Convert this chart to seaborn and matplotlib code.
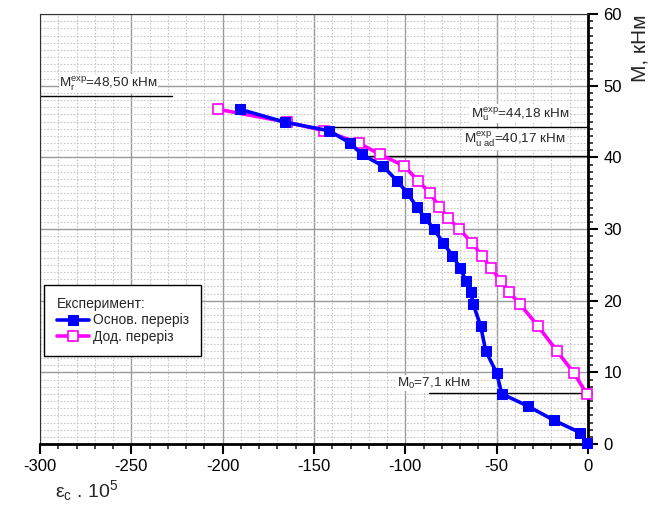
import matplotlib
matplotlib.use("Agg")
import matplotlib.pyplot as plt
from matplotlib.ticker import MultipleLocator
import numpy as np
import pandas as pd
import seaborn as sns

# ---- data ----
load_main = [46.7, 44.9, 43.7, 42.0, 40.4, 38.8, 36.7, 35.0, 33.1, 31.5, 30.0,
             28.0, 26.3, 24.5, 22.8, 21.2, 19.5, 16.4, 13.0, 9.9, 7.0,
             5.3, 3.3, 1.6, 0.2]
strain_main = [-190.5, -165.8, -141.6, -130.3, -123.7, -112.4, -104.4, -98.9,
               -93.8, -89.2, -84.3, -79.2, -74.2, -69.9, -66.9, -64.2, -62.8,
               -58.7, -56.0, -50.0, -47.2, -33.0, -18.6, -4.4, -0.7]
load_add = [46.7, 44.9, 43.7, 42.0, 40.4, 38.8, 36.7, 35.0, 33.1, 31.5, 30.0,
            28.0, 26.3, 24.5, 22.8, 21.2, 19.5, 16.4, 13.0, 9.9, 7.0]
strain_add = [-202.4, -164.6, -144.3, -125.5, -113.8, -100.7, -92.9, -86.5,
              -81.4, -76.4, -70.4, -63.4, -58.1, -53.0, -47.8, -43.1, -37.2,
              -27.2, -17.1, -7.7, -0.7]
series_names = ["Основ. переріз", "Дод. переріз"]
legend_title = "Експеримент:"

ref_values = [48.50, 44.18, 40.17, 7.1]
ref_starts = [-300, -154, -123, -87]
ref_ends = [-228, 0, 0, 0]
ref_labels = [r"M$_\mathregular{r}^\mathregular{exp}$=48,50 кНм",
              r"M$_\mathregular{u}^\mathregular{exp}$=44,18 кНм",
              r"M$_\mathregular{u\ ad}^\mathregular{exp}$=40,17 кНм",
              r"M$_\mathregular{0}$=7,1 кНм"]
ref_text_x = [-289.5, -64.2, -67.7, -104.4]
ref_text_y = [49.8, 45.6, 41.9, 8.0]

x_ticks = [-300, -250, -200, -150, -100, -50, 0]
y_ticks = [0, 10, 20, 30, 40, 50, 60]

df = pd.concat([
    pd.DataFrame({"strain": strain_main, "load": load_main, "series": series_names[0]}),
    pd.DataFrame({"strain": strain_add, "load": load_add, "series": series_names[1]}),
], ignore_index=True)

sns.set_style("ticks")
plt.rcParams["font.family"] = ["Liberation Sans", "DejaVu Sans"]
plt.rcParams["mathtext.fontset"] = "custom"
plt.rcParams["mathtext.rm"] = "Liberation Sans"
plt.rcParams["mathtext.it"] = "Liberation Sans"

fig = plt.figure(figsize=(6.66, 5.20), dpi=100)
ax = fig.add_axes([40 / 666, 1 - 444 / 520, 548 / 666, 430 / 520])

# grid
ax.set_axisbelow(True)
ax.xaxis.set_major_locator(MultipleLocator(50))
ax.xaxis.set_minor_locator(MultipleLocator(10))
ax.yaxis.set_major_locator(MultipleLocator(10))
ax.yaxis.set_minor_locator(MultipleLocator(1))
ax.grid(which="major", color="#9a9a9a", linewidth=1.0, linestyle="-")
ax.grid(which="minor", color="#c8c8c8", linewidth=0.8, linestyle=(0, (1.5, 1.5)))

# reference lines
for v, s, e in zip(ref_values, ref_starts, ref_ends):
    ax.plot([s, e], [v, v], color="black", linewidth=1.0, zorder=2)
for t, tx, ty in zip(ref_labels, ref_text_x, ref_text_y):
    ax.text(tx, ty, t, fontsize=9.7, ha="left", va="baseline", zorder=3,
            bbox=dict(facecolor="white", edgecolor="none", pad=0.5))

sns.lineplot(data=df[df.series == series_names[0]], x="strain", y="load",
             color="#0000ff", sort=False, estimator=None, ax=ax,
             marker="s", markersize=6.5, markerfacecolor="#0000ff",
             markeredgecolor="#0000ff", linewidth=2.6, label=series_names[0],
             zorder=5, clip_on=False)
sns.lineplot(data=df[df.series == series_names[1]], x="strain", y="load",
             color="#ff00ff", sort=False, estimator=None, ax=ax,
             marker="s", markersize=7, markerfacecolor="white",
             markeredgecolor="#ff00ff", markeredgewidth=1.2, linewidth=2.6,
             label=series_names[1], zorder=4, clip_on=False)

ax.set_xlim(-300, 0)
ax.set_ylim(0, 60)
ax.set_xticks(x_ticks)
ax.set_yticks(y_ticks)
ax.set_xticklabels([str(v) for v in x_ticks])
ax.set_yticklabels([str(v) for v in y_ticks])
ax.yaxis.tick_right()
ax.set_xlabel("")
ax.set_ylabel("")

for side in ["left", "top"]:
    ax.spines[side].set_linewidth(0.8)
    ax.spines[side].set_color("#333333")
for side in ["bottom", "right"]:
    ax.spines[side].set_linewidth(2.0)
    ax.spines[side].set_color("black")

ax.tick_params(axis="both", which="major", direction="out", length=7, width=1.5,
               labelsize=12, colors="black")
ax.tick_params(axis="both", which="minor", direction="out", length=3.5, width=1.2)
ax.tick_params(axis="y", which="both", left=False, right=True, pad=4)

leg = ax.legend(title=legend_title, loc="upper left", bbox_to_anchor=(0.008, 0.37),
                borderaxespad=0, fontsize=10, title_fontsize=10, frameon=True,
                fancybox=False, edgecolor="black", framealpha=1, numpoints=1,
                handlelength=2.3, borderpad=0.9, labelspacing=0.15,
                handletextpad=0.3, alignment="left")
leg.get_frame().set_linewidth(1.0)

fig.text(55 / 666, 1 - 497 / 520, r"ε$_\mathregular{c}$ . 10$^\mathregular{5}$",
         fontsize=14, ha="left", va="baseline")
fig.text(640 / 666, 1 - 48 / 520, "M, кНм", fontsize=15, rotation=90,
         ha="center", va="center")

fig.savefig("out.png", dpi=100)
